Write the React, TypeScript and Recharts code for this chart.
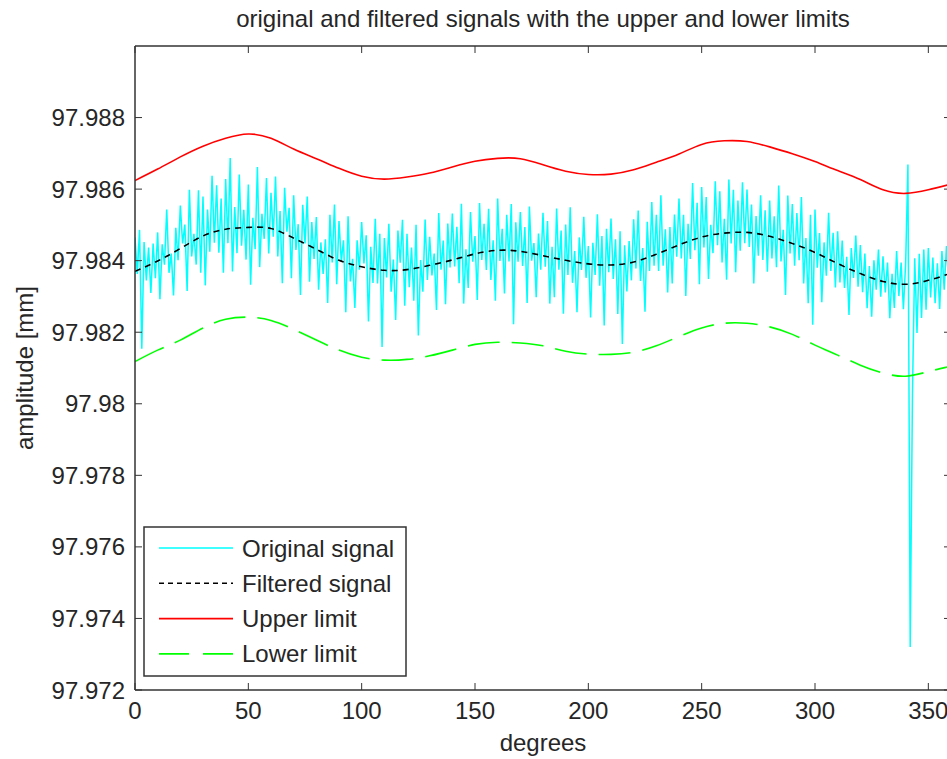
import { LineChart, Line, XAxis, YAxis } from "recharts";

// original signal, one sample per degree (0..360)
const originalStepDeg = 1;
const originalSignal = [
  97.98465, 97.98363, 97.98486, 97.98154, 97.98452, 97.98345, 97.98437, 97.9831, 97.98448, 97.98351,
  97.98479, 97.98292, 97.98446, 97.98389, 97.98543, 97.98366, 97.9842, 97.98303, 97.98492, 97.98401,
  97.98554, 97.98448, 97.98501, 97.98315, 97.98598, 97.98412, 97.98475, 97.98389, 97.98597, 97.98366,
  97.98579, 97.98331, 97.98543, 97.98425, 97.98637, 97.9845, 97.98611, 97.98422, 97.98574, 97.98366,
  97.98628, 97.98449, 97.98687, 97.9837, 97.9855, 97.98421, 97.98641, 97.98442, 97.98542, 97.98403,
  97.98613, 97.98333, 97.9852, 97.98432, 97.98662, 97.98382, 97.98531, 97.98461, 97.98631, 97.9842,
  97.9859, 97.98467, 97.98635, 97.98412, 97.98539, 97.98337, 97.98604, 97.98481, 97.98548, 97.98351,
  97.98583, 97.9843, 97.98502, 97.98304, 97.98556, 97.98448, 97.98579, 97.98341, 97.98508, 97.98405,
  97.98522, 97.98319, 97.98451, 97.98363, 97.9846, 97.98282, 97.98528, 97.98395, 97.98557, 97.98334,
  97.98511, 97.98399, 97.98457, 97.98256, 97.98524, 97.98342, 97.98405, 97.98268, 97.98457, 97.98375,
  97.98508, 97.98392, 97.98471, 97.9823, 97.98439, 97.98338, 97.98517, 97.98336, 97.98475, 97.98159,
  97.98463, 97.98353, 97.98503, 97.98313, 97.98403, 97.98234, 97.98484, 97.98394, 97.98514, 97.98274,
  97.98475, 97.98326, 97.98437, 97.98288, 97.985, 97.98191, 97.98402, 97.98313, 97.98515, 97.98346,
  97.98467, 97.98359, 97.9842, 97.98262, 97.98533, 97.98375, 97.98456, 97.98278, 97.98504, 97.98381,
  97.98532, 97.98384, 97.98495, 97.98337, 97.98559, 97.9828, 97.98432, 97.98324, 97.98536, 97.98397,
  97.98469, 97.9829, 97.98561, 97.98402, 97.98503, 97.98374, 97.98545, 97.98346, 97.98457, 97.98288,
  97.98574, 97.98399, 97.98489, 97.98308, 97.98528, 97.98398, 97.98558, 97.98222, 97.98507, 97.98397,
  97.98536, 97.98385, 97.98494, 97.98282, 97.98551, 97.984, 97.98449, 97.98298, 97.98476, 97.98375,
  97.98534, 97.98383, 97.98511, 97.9828, 97.98439, 97.98298, 97.98546, 97.98375, 97.98484, 97.98252,
  97.98501, 97.9836, 97.98549, 97.98338, 97.98427, 97.98256, 97.98465, 97.98374, 97.98523, 97.98352,
  97.98441, 97.98241, 97.9845, 97.9836, 97.9853, 97.9833, 97.98469, 97.98219, 97.98489, 97.98368,
  97.98518, 97.98349, 97.9846, 97.98251, 97.98482, 97.98167, 97.98443, 97.98314, 97.98455, 97.98345,
  97.98516, 97.98378, 97.9854, 97.98343, 97.98435, 97.98257, 97.98509, 97.98371, 97.98564, 97.98386,
  97.98528, 97.98371, 97.98583, 97.98386, 97.98488, 97.98311, 97.98494, 97.98336, 97.98529, 97.98411,
  97.98574, 97.98406, 97.98528, 97.98301, 97.98503, 97.98405, 97.98617, 97.98429, 97.98562, 97.98334,
  97.98606, 97.98437, 97.98578, 97.98349, 97.985, 97.98421, 97.98622, 97.98443, 97.98594, 97.98395,
  97.98517, 97.98347, 97.98627, 97.98448, 97.98598, 97.98368, 97.98568, 97.98428, 97.98619, 97.98449,
  97.98599, 97.98438, 97.98557, 97.98336, 97.98525, 97.98414, 97.98583, 97.98402, 97.98541, 97.98369,
  97.98568, 97.98406, 97.98524, 97.98382, 97.9861, 97.98398, 97.98486, 97.98304, 97.98582, 97.9842,
  97.98558, 97.98386, 97.98533, 97.98401, 97.98578, 97.98336, 97.98463, 97.98281, 97.98528, 97.98221,
  97.98543, 97.9838, 97.98477, 97.98284, 97.98451, 97.98358, 97.98534, 97.98371, 97.98478, 97.98325,
  97.98482, 97.98339, 97.98456, 97.98324, 97.98411, 97.98248, 97.98435, 97.98352, 97.9847, 97.98327,
  97.98444, 97.98312, 97.9842, 97.98267, 97.98385, 97.98243, 97.98401, 97.98319, 97.98431, 97.98299,
  97.98412, 97.98311, 97.98395, 97.98239, 97.98363, 97.98268, 97.98427, 97.98301, 97.98395, 97.98264,
  97.98394, 97.98669, 97.9732, 97.9803, 97.98407, 97.98198, 97.98419, 97.9824, 97.98431, 97.98263,
  97.98435, 97.98297, 97.98409, 97.98281, 97.98393, 97.98265, 97.98427, 97.98319, 97.98441, 97.98333,
  97.98435,
];

const limitDegrees = [
  0, 10, 20, 30, 40, 50, 60, 70, 80, 90, 100, 110, 120, 130, 140, 150, 160, 170, 180,
  190, 200, 210, 220, 230, 240, 250, 260, 270, 280, 290, 300, 310, 320, 330, 340, 350, 360,
];

const filteredSignal = [
  97.9837, 97.98399, 97.98434, 97.98469, 97.98488, 97.98493, 97.9849, 97.98463, 97.98432, 97.98401,
  97.98383, 97.98373, 97.98375, 97.98387, 97.98402, 97.98419, 97.98429, 97.98426, 97.98414, 97.98401,
  97.98391, 97.98388, 97.98396, 97.98418, 97.98444, 97.98466, 97.98477, 97.98479, 97.98468, 97.98448,
  97.98423, 97.98392, 97.98364, 97.98342, 97.98334, 97.98345, 97.98365,
];

const upperLimit = [
  97.98624, 97.98656, 97.9869, 97.9872, 97.98742, 97.98754, 97.98742, 97.98712, 97.98685, 97.98658,
  97.98636, 97.98628, 97.98634, 97.98645, 97.98662, 97.98678, 97.98686, 97.98685, 97.98668, 97.9865,
  97.98641, 97.98642, 97.98654, 97.98675, 97.98698, 97.98725, 97.98735, 97.98733, 97.98718, 97.98699,
  97.98677, 97.98652, 97.98627, 97.98598, 97.98588, 97.98598, 97.98614,
];

const lowerLimit = [
  97.98118, 97.9815, 97.98178, 97.98212, 97.98236, 97.98242, 97.98233, 97.98208, 97.98178, 97.9815,
  97.9813, 97.98122, 97.98124, 97.98134, 97.9815, 97.98166, 97.98172, 97.9817, 97.98162, 97.98147,
  97.98139, 97.98138, 97.98144, 97.98162, 97.98188, 97.98212, 97.98225, 97.98225, 97.98215, 97.98194,
  97.98164, 97.98136, 97.98108, 97.98086, 97.98077, 97.9809, 97.98105,
];

const xTicks = [0, 50, 100, 150, 200, 250, 300, 350];
const yTicks = [97.972, 97.974, 97.976, 97.978, 97.98, 97.982, 97.984, 97.986, 97.988];

const legendItems = [
  { label: "Original signal", color: "#00ffff", dash: undefined },
  { label: "Filtered signal", color: "#000000", dash: "5 4" },
  { label: "Upper limit", color: "#ff0000", dash: undefined },
  { label: "Lower limit", color: "#00ff00", dash: "30 14" },
];

const originalData = originalSignal.map((v, i) => ({ deg: i * originalStepDeg, v }));
const limitData = limitDegrees.map((deg, i) => ({
  deg,
  filtered: filteredSignal[i],
  upper: upperLimit[i],
  lower: lowerLimit[i],
}));

// plot box in page pixels
const W = 960;
const H = 759;
const LEFT = 135;
const TOP = 46;
const RIGHT = 951;
const BOTTOM = 690;
const FONT = "'Liberation Sans', Arial, sans-serif";
const INK = "#262626";
const AXIS = "#333";

const fmtY = (v: number) => String(parseFloat(v.toFixed(3)));

const BottomTick = (props: any) => {
  const { x, payload } = props;
  return (
    <g>
      <line x1={x} x2={x} y1={BOTTOM} y2={BOTTOM - 7} stroke={AXIS} />
      <text x={x} y={BOTTOM + 29} textAnchor="middle" fontSize={24} fontFamily={FONT} fill={INK}>
        {payload.value}
      </text>
    </g>
  );
};

const TopTick = (props: any) => {
  const { x } = props;
  return <line x1={x} x2={x} y1={TOP} y2={TOP + 7} stroke={AXIS} />;
};

const LeftTick = (props: any) => {
  const { y, payload } = props;
  return (
    <g>
      <line x1={LEFT} x2={LEFT + 7} y1={y} y2={y} stroke={AXIS} />
      <text x={LEFT - 10} y={y + 8.5} textAnchor="end" fontSize={24} fontFamily={FONT} fill={INK}>
        {fmtY(payload.value)}
      </text>
    </g>
  );
};

const RightTick = (props: any) => {
  const { y } = props;
  return <line x1={RIGHT} x2={RIGHT - 7} y1={y} y2={y} stroke={AXIS} />;
};

export default function App() {
  return (
    <div style={{ position: "absolute", left: 0, top: 0, width: 947, height: 759, overflow: "hidden", background: "#fff" }}>
      <LineChart
        width={W}
        height={H}
        margin={{ top: TOP - 1, right: W - RIGHT - 1, left: 0, bottom: H - BOTTOM - 40 }}
      >
        <XAxis
          dataKey="deg"
          type="number"
          domain={[0, 360]}
          ticks={xTicks}
          interval={0}
          allowDataOverflow
          height={40}
          tickLine={false}
          axisLine={{ stroke: AXIS, strokeWidth: 1.5 }}
          tick={<BottomTick />}
        />
        <XAxis
          xAxisId="top"
          orientation="top"
          dataKey="deg"
          type="number"
          domain={[0, 360]}
          ticks={xTicks}
          interval={0}
          allowDataOverflow
          height={1}
          tickLine={false}
          axisLine={{ stroke: AXIS, strokeWidth: 1.5 }}
          tick={<TopTick />}
        />
        <YAxis
          type="number"
          domain={[97.972, 97.99]}
          ticks={yTicks}
          interval={0}
          allowDataOverflow
          width={LEFT}
          tickLine={false}
          axisLine={{ stroke: AXIS, strokeWidth: 1.5 }}
          tick={<LeftTick />}
        />
        <YAxis
          yAxisId="right"
          orientation="right"
          type="number"
          domain={[97.972, 97.99]}
          ticks={yTicks}
          interval={0}
          allowDataOverflow
          width={1}
          tickLine={false}
          axisLine={{ stroke: AXIS, strokeWidth: 1.5 }}
          tick={<RightTick />}
        />
        <Line
          data={originalData}
          dataKey="v"
          type="linear"
          stroke="#00ffff"
          strokeWidth={1.5}
          dot={false}
          isAnimationActive={false}
        />
        <Line
          data={limitData}
          dataKey="filtered"
          type="natural"
          stroke="#000"
          strokeWidth={1.6}
          strokeDasharray="6 5"
          dot={false}
          isAnimationActive={false}
        />
        <Line
          data={limitData}
          dataKey="upper"
          type="natural"
          stroke="#ff0000"
          strokeWidth={1.6}
          dot={false}
          isAnimationActive={false}
        />
        <Line
          data={limitData}
          dataKey="lower"
          type="natural"
          stroke="#00ff00"
          strokeWidth={1.6}
          strokeDasharray="32 12"
          dot={false}
          isAnimationActive={false}
        />
      </LineChart>

      <svg
        width={947}
        height={759}
        style={{ position: "absolute", left: 0, top: 0, pointerEvents: "none" }}
        fontFamily={FONT}
        fill={INK}
      >
        <text x={(LEFT + RIGHT) / 2} y={27} textAnchor="middle" fontSize={24}>
          original and filtered signals with the upper and lower limits
        </text>
        <text x={(LEFT + RIGHT) / 2} y={751} textAnchor="middle" fontSize={24}>
          degrees
        </text>
        <text
          x={0}
          y={0}
          textAnchor="middle"
          fontSize={24}
          transform={`translate(33 ${(TOP + BOTTOM) / 2}) rotate(-90)`}
        >
          amplitude [mm]
        </text>

        <rect x={144} y={527} width={262} height={149} fill="#fff" stroke={AXIS} strokeWidth={1.5} />
        {legendItems.map((item, i) => {
          const cy = 548 + i * 35.3;
          return (
            <g key={item.label}>
              <line
                x1={159}
                x2={233}
                y1={cy}
                y2={cy}
                stroke={item.color}
                strokeWidth={1.6}
                strokeDasharray={item.dash}
              />
              <text x={242} y={cy + 8.5} fontSize={24}>
                {item.label}
              </text>
            </g>
          );
        })}
      </svg>
    </div>
  );
}
